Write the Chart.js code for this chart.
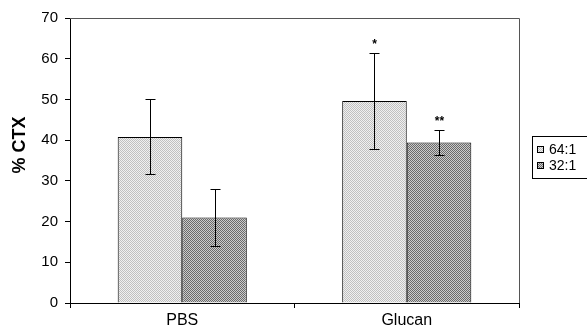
<!DOCTYPE html>
<html>
<head>
<meta charset="utf-8">
<script src="https://cdn.jsdelivr.net/npm/chart.js@4.4.0/dist/chart.umd.min.js"></script>
<style>
  html, body { margin: 0; padding: 0; background: #fff; }
  #wrap { width: 587px; height: 330px; }
</style>
</head>
<body>
<div id="wrap"><canvas id="c" width="587" height="330"></canvas></div>
<script>
// Groups and series
const categories = ['PBS', 'Glucan'];
const seriesLabels = ['64:1', '32:1'];
const ratio64 = [40.8, 49.6];
const ratio32 = [21.0, 39.4];
const err64 = [9.2, 11.7];
const err32 = [7.1, 3.0];
const marks64 = ['', '*'];
const marks32 = ['', '**'];
const yTicks = [0, 10, 20, 30, 40, 50, 60, 70];
const yTitle = '% CTX';

const FONT = 'Arial, "Liberation Sans", sans-serif';

// Dithered grey fills
function dither(c1, c2) {
  const p = document.createElement('canvas');
  p.width = 2; p.height = 2;
  const g = p.getContext('2d');
  g.fillStyle = c1; g.fillRect(0, 0, 2, 2);
  g.fillStyle = c2; g.fillRect(0, 0, 1, 1); g.fillRect(1, 1, 1, 1);
  return document.getElementById('c').getContext('2d').createPattern(p, 'repeat');
}
const fillLight = dither('#f0f0f0', '#c0c0c0');
const fillDark = dither('#cccccc', '#6a6a6a');

const errors = [err64, err32];
const marks = [marks64, marks32];

const errorBars = {
  id: 'errorBars',
  afterDatasetsDraw(chart) {
    const ctx = chart.ctx;
    const y = chart.scales.y;
    ctx.save();
    ctx.strokeStyle = '#000';
    ctx.lineWidth = 1;
    chart.data.datasets.forEach((ds, di) => {
      const meta = chart.getDatasetMeta(di);
      meta.data.forEach((bar, i) => {
        const v = ds.data[i], e = errors[di][i];
        const x = Math.round(bar.x) + 0.5;
        const yt = Math.round(y.getPixelForValue(v + e)) + 0.5;
        const yb = Math.round(y.getPixelForValue(v - e)) + 0.5;
        ctx.beginPath();
        ctx.moveTo(x, yt); ctx.lineTo(x, yb);
        ctx.moveTo(x - 5, yt); ctx.lineTo(x + 5, yt);
        ctx.moveTo(x - 5, yb); ctx.lineTo(x + 5, yb);
        ctx.stroke();
        const m = marks[di][i];
        if (m) {
          ctx.fillStyle = '#000';
          ctx.font = 'bold 12px ' + FONT;
          ctx.textAlign = 'center';
          ctx.textBaseline = 'middle';
          ctx.fillText(m, x, yt - 9);
        }
      });
    });
    ctx.restore();
  }
};

const frame = {
  id: 'frame',
  afterDraw(chart) {
    const { ctx, chartArea: a } = chart;
    ctx.save();
    // top and right border of the plot
    ctx.strokeStyle = '#555';
    ctx.lineWidth = 1;
    ctx.beginPath();
    ctx.moveTo(a.left, a.top + 0.5);
    ctx.lineTo(a.right + 0.5, a.top + 0.5);
    ctx.lineTo(a.right + 0.5, a.bottom);
    ctx.stroke();

    // y axis title
    ctx.fillStyle = '#000';
    ctx.font = 'bold 18px ' + FONT;
    ctx.textAlign = 'center';
    ctx.textBaseline = 'middle';
    ctx.translate(20, 145);
    ctx.rotate(-Math.PI / 2);
    ctx.fillText(yTitle, 0, 0);
    ctx.restore();

    // legend
    ctx.save();
    const lx = 532, ly = 136, lw = 70, lh = 42;
    ctx.strokeStyle = '#000';
    ctx.lineWidth = 1;
    ctx.strokeRect(lx + 0.5, ly + 0.5, lw, lh);
    ctx.font = '14px ' + FONT;
    ctx.textAlign = 'left';
    ctx.textBaseline = 'middle';
    chart.data.datasets.forEach((ds, i) => {
      const cy = ly + 13 + i * 16;
      ctx.fillStyle = ds.backgroundColor;
      ctx.fillRect(lx + 5, cy - 3, 7, 7);
      ctx.strokeStyle = '#000';
      ctx.strokeRect(lx + 5.5, cy - 2.5, 6, 6);
      ctx.fillStyle = '#000';
      ctx.fillText(ds.label, lx + 17, cy + 1);
    });
    ctx.restore();
  }
};

new Chart(document.getElementById('c'), {
  type: 'bar',
  data: {
    labels: categories,
    datasets: [
      { label: seriesLabels[0], data: ratio64, backgroundColor: fillLight,
        borderColor: '#000', borderWidth: 1 },
      { label: seriesLabels[1], data: ratio32, backgroundColor: fillDark,
        borderColor: '#000', borderWidth: 1 }
    ]
  },
  options: {
    responsive: false,
    animation: false,
    devicePixelRatio: 1,
    layout: { padding: { left: 0, right: 68, top: 18, bottom: 0 } },
    datasets: { bar: { categoryPercentage: 0.575, barPercentage: 1 } },
    plugins: { legend: { display: false }, tooltip: { enabled: false } },
    scales: {
      x: {
        offset: true,
        grid: { offset: true, drawOnChartArea: false, drawTicks: true, tickLength: 5, color: '#000' },
        border: { display: true, color: '#000', width: 1 },
        ticks: { color: '#000', font: { family: FONT, size: 16 }, padding: 3 },
        afterFit(s) { s.height = 27; }
      },
      y: {
        min: 0, max: 70,
        afterBuildTicks(s) { s.ticks = yTicks.map(v => ({ value: v })); },
        grid: { drawOnChartArea: false, drawTicks: true, tickLength: 5, color: '#000' },
        border: { display: true, color: '#000', width: 1 },
        ticks: { color: '#000', font: { family: FONT, size: 15 }, padding: 7 },
        afterFit(s) { s.width = 70; }
      }
    }
  },
  plugins: [errorBars, frame]
});
</script>
</body>
</html>
